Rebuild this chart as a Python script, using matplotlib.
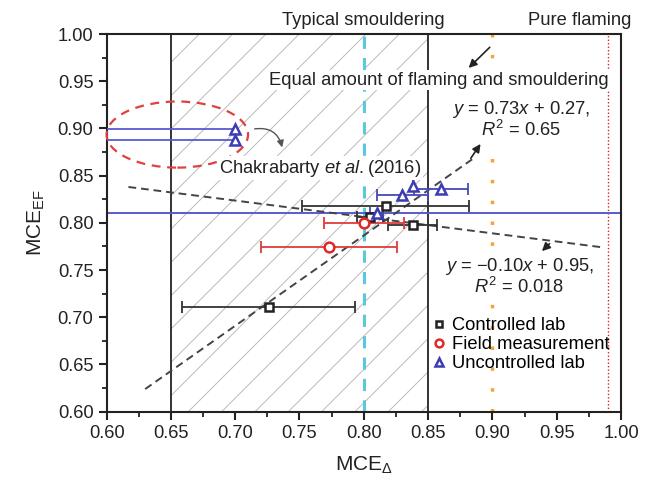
import matplotlib
matplotlib.use("Agg")
import matplotlib.pyplot as plt
from matplotlib.patches import Ellipse, Rectangle
import numpy as np

plt.rcParams['font.family'] = ['Liberation Sans', 'DejaVu Sans']
plt.rcParams['mathtext.fontset'] = 'custom'
plt.rcParams['mathtext.rm'] = 'Liberation Sans'
plt.rcParams['mathtext.it'] = 'Liberation Sans:italic'
plt.rcParams['hatch.linewidth'] = 0.7

# ---------------- data ----------------
ctrl_x = [0.726, 0.817, 0.838, 0.805]
ctrl_y = [0.711, 0.818, 0.798, 0.806]
ctrl_xerr = [0.067, 0.065, 0.019, 0.010]

field_x = [0.800, 0.773]
field_y = [0.800, 0.774]
field_xerr = [0.031, 0.053]

unc_x = [0.810, 0.830, 0.838, 0.860]
unc_y = [0.810, 0.830, 0.839, 0.836]
unc_xerr = [0.005, 0.020, 0.0, 0.021]

chak_x = [0.700, 0.700]
chak_y = [0.899, 0.888]
chak_xerr_lo = [0.12, 0.12]
chak_xerr_hi = [0.0, 0.0]

fit1_x = [0.630, 0.885]
fit1_y = [0.624, 0.868]
fit2_x = [0.617, 0.986]
fit2_y = [0.838, 0.774]

smoulder_lo, smoulder_hi = 0.65, 0.85
typical_smoulder = 0.80
equal_mce = 0.90
pure_flaming = 0.99
mean_mce_ef = 0.81

xticks = [0.60, 0.65, 0.70, 0.75, 0.80, 0.85, 0.90, 0.95, 1.00]
yticks = [0.60, 0.65, 0.70, 0.75, 0.80, 0.85, 0.90, 0.95, 1.00]

# ---------------- figure ----------------
fig = plt.figure(figsize=(6.54, 4.83), dpi=100)
ax = fig.add_axes([0.163, 0.1476, 0.7865, 0.782])
ax.set_xlim(0.60, 1.00)
ax.set_ylim(0.60, 1.00)

# hatched smouldering region
ax.add_patch(Rectangle((smoulder_lo, 0.60), smoulder_hi - smoulder_lo, 0.40,
                       facecolor='none', edgecolor='#bbbbbb', hatch='/',
                       linewidth=0, zorder=0))
for xv in (smoulder_lo, smoulder_hi):
    ax.axvline(xv, color='#333333', lw=1.4, zorder=1)

ax.axvline(typical_smoulder, color='#5cc8dc', lw=2.2, ls=(0, (4, 3)), zorder=2)
ax.axvline(equal_mce, color='#f5a23c', lw=2.5, ls=(0, (1, 5)), zorder=2)
ax.axvline(pure_flaming, color='#e02020', lw=1.0, ls=(0, (1, 1.5)), zorder=2)
ax.axhline(mean_mce_ef, color='#5a5ad2', lw=1.4, zorder=2)

# fit lines
ax.plot(fit1_x, fit1_y, color='#444444', lw=1.4, ls=(0, (4, 2.5)), zorder=3)
ax.plot(fit2_x, fit2_y, color='#444444', lw=1.4, ls=(0, (4, 2.5)), zorder=3)
ax.annotate('', xy=(0.892, 0.886), xytext=(0.882, 0.866),
            arrowprops=dict(arrowstyle='-|>', color='#222222', lw=1.2,
                            mutation_scale=12), zorder=4)
ax.annotate('', xy=(0.937, 0.768), xytext=(0.946, 0.780),
            arrowprops=dict(arrowstyle='-|>', color='#222222', lw=1.2,
                            mutation_scale=12), zorder=4)

# error bars
ax.errorbar(ctrl_x, ctrl_y, xerr=ctrl_xerr, fmt='none', ecolor='#333333',
             elinewidth=1.3, capsize=4, capthick=1.3, zorder=5)
ax.errorbar(field_x, field_y, xerr=field_xerr, fmt='none', ecolor='#e03a3a',
             elinewidth=1.3, capsize=4, capthick=1.3, zorder=5)
ax.errorbar(unc_x, unc_y, xerr=unc_xerr, fmt='none', ecolor='#4848b8',
             elinewidth=1.3, capsize=4, capthick=1.3, zorder=5)
ax.errorbar(chak_x, chak_y, xerr=[chak_xerr_lo, chak_xerr_hi], fmt='none',
             ecolor='#5a5ad2', elinewidth=1.3, capsize=0, zorder=5)

# markers
h1, = ax.plot(ctrl_x, ctrl_y, 's', ms=6, mfc='white', mec='#222222', mew=1.8,
              ls='none', zorder=6, label='Controlled lab')
h2, = ax.plot(field_x, field_y, 'o', ms=7, mfc='white', mec='#e02828', mew=1.8,
              ls='none', zorder=6, label='Field measurement')
h3, = ax.plot(unc_x, unc_y, '^', ms=7.5, mfc='white', mec='#3c3cb4', mew=1.8,
              ls='none', zorder=6, label='Uncontrolled lab')
ax.plot(chak_x, chak_y, '^', ms=7.5, mfc='white', mec='#3c3cb4', mew=1.8,
        ls='none', zorder=6)

# ellipse around Chakrabarty points
ax.add_patch(Ellipse((0.655, 0.8935), 0.110, 0.070, facecolor='none',
                     edgecolor='#e04040', lw=1.6, ls=(0, (4, 3)), zorder=6,
                     clip_on=False))
ax.annotate('', xy=(0.737, 0.877), xytext=(0.713, 0.899),
            arrowprops=dict(arrowstyle='-|>', color='#555555', lw=1.0,
                            mutation_scale=10,
                            connectionstyle='arc3,rad=-0.5'), zorder=6)

fs = 13.2
white = dict(facecolor='white', edgecolor='none', pad=1.0)
ax.text(0.766, 0.858, r'Chakrabarty $\mathit{et\ al.}$(2016)', fontsize=fs,
        ha='center', va='center', color='#222222', bbox=white, zorder=7)
ax.text(0.858, 0.951, 'Equal amount of flaming and smouldering', fontsize=fs,
        ha='center', va='center', color='#222222', bbox=white, zorder=7)
ax.annotate('', xy=(0.880, 0.962), xytext=(0.8995, 0.988),
            arrowprops=dict(arrowstyle='-|>', color='#222222', lw=1.2,
                            mutation_scale=12), zorder=8)
ax.text(0.922, 0.909, '$y$ = 0.73$x$ + 0.27,\n$R^2$ = 0.65', fontsize=fs,
        ha='center', va='center', color='#222222', linespacing=1.0,
        bbox=white, zorder=7)
ax.text(0.921, 0.743, '$y$ = \u22120.10$x$ + 0.95,\n$R^2$ = 0.018', fontsize=fs,
        ha='center', va='center', color='#222222', linespacing=1.0,
        bbox=white, zorder=7)

# top labels
ax.text(typical_smoulder, 1.005, 'Typical smouldering', fontsize=fs,
        ha='center', va='bottom', color='#222222')
ax.text(0.968, 1.005, 'Pure flaming', fontsize=fs,
        ha='center', va='bottom', color='#222222')

# legend
ax.legend(handles=[h1, h2, h3], loc='upper left', bbox_to_anchor=(0.62, 0.27),
          frameon=False, fontsize=fs, handlelength=0.7, handletextpad=0.35,
          labelspacing=0.12, borderaxespad=0.0, markerscale=0.8)

# axes styling
ax.set_xticks(xticks)
ax.set_yticks(yticks)
ax.set_xticklabels([f'{v:.2f}' for v in xticks])
ax.set_yticklabels([f'{v:.2f}' for v in yticks])
ax.xaxis.set_minor_locator(matplotlib.ticker.MultipleLocator(0.025))
ax.yaxis.set_minor_locator(matplotlib.ticker.MultipleLocator(0.025))
ax.tick_params(which='major', direction='out', length=6, width=1.5,
               labelsize=fs, colors='#222222')
ax.tick_params(which='minor', direction='out', length=3.5, width=1.3,
               colors='#222222')
for sp in ax.spines.values():
    sp.set_linewidth(1.5)
    sp.set_color('#222222')

ax.set_xlabel(r'MCE$_{\Delta}$', fontsize=15, color='#222222', labelpad=9)
ax.set_ylabel(r'MCE$_{\mathrm{EF}}$', fontsize=15, color='#222222', labelpad=8)

fig.savefig('out.png', dpi=100)
